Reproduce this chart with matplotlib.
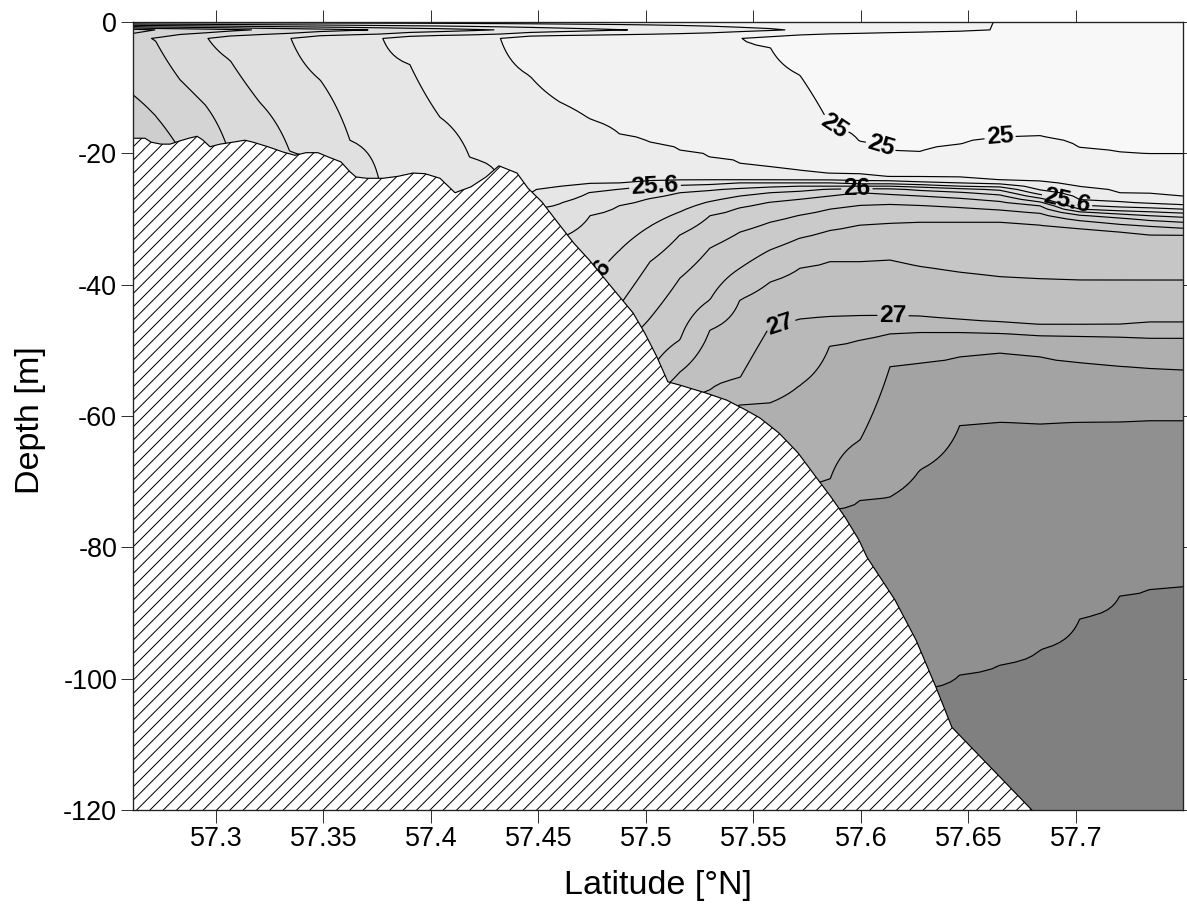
import numpy as np
import matplotlib
matplotlib.use("Agg")
import matplotlib.pyplot as plt

plt.rcParams['font.family'] = ['Liberation Sans', 'DejaVu Sans']
plt.rcParams['axes.unicode_minus'] = False
plt.rcParams['hatch.linewidth'] = 0.6

# ---------------- data ----------------
station_lat = [57.2614, 57.2716, 57.2833, 57.2949, 57.3065, 57.3205, 57.3344, 57.3484,
               57.3623, 57.3763, 57.3902, 57.4042, 57.4181, 57.4321, 57.4460, 57.4600,
               57.4740, 57.4879, 57.5019, 57.5158, 57.5298, 57.5437, 57.5577, 57.5716,
               57.5856, 57.5995, 57.6135, 57.6274, 57.6460, 57.6647, 57.6833, 57.7019,
               57.7205, 57.7344, 57.7498]

levels = [25.0, 25.2, 25.4, 25.6, 25.8, 26.0, 26.2, 26.4, 26.6, 26.8, 27.0, 27.2, 27.4, 27.6, 27.8]

nan = np.nan
# depth (m) of each isopycnal at each station; nan = lighter than whole water column
iso_25_0 = [nan] * 21 + [-2.1, -3.8, -8.1, -15.7, -18.3, -19.6, -19.9, -18.7, -17.5, -17.4,
                         -19.2, -19.9, -20.1, -20.1]
iso_25_2 = [nan] * 13 + [-2.3, -8.2, -12.2, -14.8, -17.1, -18.4, -19.5, -20.7, -21.5, -22.1,
                         -22.8, -23.1, -23.3, -23.6, -23.6, -23.8, -24.1, -24.4, -25.1, -26.0,
                         -26.2, -26.5]
iso_25_4 = [nan] * 9 + [-1.2, -6.5, -14.5, -20.7, -24.1, -26.3, -25.1, -24.8, -24.5, -24.4,
                        -24.2, -24.1, -24.1, -24.1, -24.1, -24.1, -24.2, -24.2, -24.4, -24.5,
                        -24.7, -25.6, -27.1, -27.4, -27.7, -27.9]
iso_25_6 = [nan] * 6 + [-2.1, -8.8, -18.0, -24.8, -25.3, -25.9, -26.5, -27.1, -28.6, -27.6,
                        -25.9, -25.4, -25.0, -24.8, -24.7, -24.5, -24.5, -24.5, -24.5, -24.7,
                        -24.7, -24.8, -25.0, -25.1, -26.3, -27.9, -28.2, -28.3, -28.5]
iso_25_8 = [nan] * 3 + [-1.8, -5.8, -12.3, -19.8, -21.8, -24.8, -26.3, -26.8, -27.4, -28.0,
                        -28.6, -30.2, -32.9, -29.5, -27.9, -26.8, -26.0, -25.6, -25.3, -25.1,
                        -25.0, -25.0, -25.0, -25.0, -25.1, -25.3, -25.6, -26.8, -28.5, -28.8,
                        -28.9, -29.1]
iso_26_0 = [nan, -2.7, -8.8, -12.6, -20.3, -23.3, -25.6, -27.1, -28.6, -29.4, -29.8, -30.5,
            -31.1, -31.7, -32.9, -35.5, -40.1, -34.7, -31.1, -28.9, -27.3, -26.5, -26.0, -25.7,
            -25.4, -25.3, -25.3, -25.6, -25.9, -26.3, -27.4, -28.9, -29.2, -29.5, -29.7]
iso_26_2 = [-11.1, -14.2, -19.5, -21.8, -24.1, -26.3, -27.9, -29.4, -30.9, -31.7, -32.1, -32.6,
            -33.2, -33.8, -34.7, -37.5, -42.3, -43.1, -36.5, -32.4, -29.5, -28.2, -27.4, -27.0,
            -26.5, -26.0, -26.2, -26.5, -26.8, -27.3, -28.0, -29.4, -29.8, -30.2, -30.5]
iso_26_4 = [-21.0, -23.3, -24.8, -26.3, -27.9, -29.4, -30.9, -32.4, -34.0, -34.7, -35.5, -35.9,
            -36.5, -37.2, -38.1, -40.8, -45.4, -49.2, -45.1, -39.0, -34.4, -32.0, -30.5, -29.4,
            -28.5, -27.9, -27.7, -27.9, -28.2, -28.6, -29.1, -30.2, -30.8, -31.1, -31.4]
iso_26_6 = [-23.3, -25.6, -27.1, -28.6, -30.2, -31.7, -33.2, -34.7, -36.2, -37.2, -37.8, -38.4,
            -39.0, -39.6, -40.8, -43.9, -48.4, -52.2, -53.3, -48.4, -42.3, -37.5, -34.7, -32.9,
            -31.7, -30.9, -30.6, -30.5, -30.5, -30.5, -30.8, -31.5, -32.0, -32.3, -32.4]
iso_26_8 = [-25.6, -27.9, -29.4, -30.9, -32.4, -34.0, -35.5, -37.0, -38.5, -39.3, -40.1, -40.8,
            -41.6, -42.3, -43.9, -46.9, -51.5, -55.3, -57.6, -53.3, -46.9, -42.3, -39.6, -37.5,
            -36.5, -36.5, -36.2, -37.2, -38.1, -38.8, -39.1, -39.3, -39.3, -39.3, -39.3]
iso_27_0 = [-27.9, -30.2, -31.7, -33.2, -34.7, -36.2, -37.8, -39.3, -40.8, -41.6, -42.3, -43.1,
            -43.9, -44.6, -46.1, -49.2, -53.8, -57.6, -59.8, -58.3, -56.0, -54.2, -46.3, -45.2,
            -44.9, -44.8, -44.8, -44.9, -45.4, -45.8, -46.1, -46.1, -46.0, -45.8, -45.8]
iso_27_2 = [-30.2, -32.4, -34.0, -35.5, -37.0, -38.5, -40.1, -41.6, -43.1, -43.9, -44.6, -45.4,
            -46.1, -46.9, -48.4, -51.5, -56.0, -59.8, -62.1, -60.6, -59.8, -58.3, -58.0, -55.3,
            -49.2, -48.4, -47.5, -47.2, -47.2, -47.4, -47.7, -47.8, -48.0, -48.1, -48.1]
iso_27_4 = [-32.4, -34.7, -36.2, -37.8, -39.3, -40.8, -42.3, -43.9, -45.4, -46.1, -46.9, -47.7,
            -48.4, -49.2, -50.7, -53.8, -58.3, -62.1, -64.4, -63.7, -62.9, -63.7, -68.2, -72.8,
            -69.7, -63.7, -52.5, -51.9, -51.0, -50.3, -51.0, -51.8, -52.4, -52.7, -53.0]
iso_27_6 = [-34.7, -37.0, -38.5, -40.1, -41.6, -43.1, -44.6, -46.1, -47.7, -48.4, -49.2, -50.0,
            -50.7, -51.5, -53.0, -56.0, -60.6, -64.4, -66.7, -66.7, -66.7, -68.2, -72.8, -75.8,
            -74.3, -72.8, -72.3, -68.2, -61.4, -60.9, -61.1, -60.9, -60.8, -60.6, -60.6]
iso_27_8 = [-37.0, -39.3, -40.8, -42.3, -43.9, -45.4, -46.9, -48.4, -50.0, -50.7, -51.5, -52.2,
            -53.0, -53.8, -55.3, -58.3, -62.9, -66.7, -69.0, -69.7, -70.5, -72.0, -75.8, -79.6,
            -83.5, -91.1, -98.7, -101.7, -99.4, -97.9, -95.6, -90.8, -87.3, -86.3, -86.0]

# thin surface layer: density at the surface and at 1.2 m
surface_sigma = [25.1] * 29 + [24.98, 24.9, 24.9, 24.9, 24.9, 24.9]
sub_sigma = [26.3, 26.2, 26.15, 26.1, 26.05, 25.98, 25.93, 25.88, 25.83, 25.78, 25.73, 25.69,
             25.64, 25.59, 25.54, 25.49, 25.45, 25.41, 25.37, 25.33, 25.29, 25.25, 25.22, 25.18,
             25.14, 25.11, 25.08, 25.06, 25.03, 24.99, 24.95, 24.95, 24.95, 24.95, 24.95]

# sea floor
bottom_lat = [57.2614, 57.2670, 57.2698, 57.2744, 57.2786, 57.2833, 57.2874, 57.2912, 57.2940,
              57.2972, 57.3019, 57.3079, 57.3135, 57.3172, 57.3242, 57.3312, 57.3367, 57.3419,
              57.3474, 57.3526, 57.3581, 57.3623, 57.3651, 57.3702, 57.3777, 57.3847, 57.3916,
              57.3972, 57.4042, 57.4112, 57.4186, 57.4256, 57.4316, 57.4400, 57.4451, 57.4516,
              57.4591, 57.4665, 57.4735, 57.4851, 57.4940, 57.4995, 57.5051, 57.5102, 57.5158,
              57.5279, 57.5377, 57.5465, 57.5530, 57.5619, 57.5707, 57.5791, 57.5860, 57.5926,
              57.5991, 57.6028, 57.6158, 57.6256, 57.6349, 57.6423, 57.6795]
bottom_depth = [-17.7, -17.7, -18.3, -18.6, -18.6, -18.1, -17.7, -17.4, -18.0,
                -19.0, -18.6, -18.3, -18.0, -18.3, -19.0, -19.8, -20.3, -19.9,
                -19.9, -20.6, -21.3, -22.8, -23.6, -23.8, -23.8, -23.5, -23.0,
                -23.1, -23.8, -26.0, -25.1, -23.6, -21.9, -23.0, -25.3, -27.4,
                -30.6, -33.7, -36.2, -40.8, -44.3, -47.4, -51.0, -54.8, -55.3,
                -56.5, -57.6, -59.1, -60.3, -62.6, -65.6, -69.3, -72.3, -75.4,
                -78.9, -81.5, -88.0, -94.1, -101.3, -107.4, -120.0]

fill_colors = ['#f8f8f8', '#f2f2f2', '#ececec', '#e6e6e6', '#e0e0e0', '#dadada', '#d4d4d4',
               '#cecece', '#cacaca', '#c6c6c6', '#c0c0c0', '#b9b9b9', '#afafaf', '#a3a3a3',
               '#909090', '#808080']

label_spots = {
    25.0: [(57.5888, -14.6), (57.6088, -19.5), (57.6647, -17.5)],
    25.6: [(57.5042, -25.1), (57.6949, -28.2)],
    26.0: [(57.5981, -25.3), (57.4786, -38.5)],
    27.0: [(57.5614, -44.5), (57.6149, -44.9)],
}

xtick_vals = [57.3, 57.35, 57.4, 57.45, 57.5, 57.55, 57.6, 57.65, 57.7]
xtick_labels = ['57.3', '57.35', '57.4', '57.45', '57.5', '57.55', '57.6', '57.65', '57.7']
ytick_vals = [0, -20, -40, -60, -80, -100, -120]
ytick_labels = ['0', '-20', '-40', '-60', '-80', '-100', '-120']

# ---------------- gridding ----------------
lev = np.array(levels)
iso = np.array([iso_25_0, iso_25_2, iso_25_4, iso_25_6, iso_25_8, iso_26_0, iso_26_2,
                iso_26_4, iso_26_6, iso_26_8, iso_27_0, iso_27_2, iso_27_4, iso_27_6,
                iso_27_8], dtype=float)
nst = len(station_lat)
z_main = np.arange(-2.5, -120.01, -0.5)
z = np.concatenate([[0.0, -1.2], z_main])
field = np.zeros((len(z), nst))
for j in range(nst):
    d = iso[:, j].copy()
    fin = np.where(~np.isnan(d))[0]
    first = fin[0]
    for k in range(first - 1, -1, -1):
        d[k] = 1.0 + 2.0 * (first - 1 - k)
    dd = np.concatenate([[max(d[0], -1.0) + 2.0], d, [-200.0]])
    h = np.maximum.accumulate(-dd)
    vals = np.concatenate([[lev[0] - 0.2], lev, [lev[-1] + 0.2]])
    field[2:, j] = np.interp(-z_main, h, vals)
field[0, :] = surface_sigma
field[1, :] = sub_sigma

# ---------------- plot ----------------
fig = plt.figure(figsize=(1187 / 120, 913 / 120), dpi=120)
ax = fig.add_axes([133 / 1187, 103 / 913, 1050 / 1187, 788 / 913])

fill_levels = [24.0] + levels + [29.0]
ax.contourf(station_lat, z, field, levels=fill_levels, colors=fill_colors, zorder=1)


def fmt(v):
    return f'{v:g}'


all_texts = []
for lv in levels:
    c = ax.contour(station_lat, z, field, levels=[lv], colors='black', linewidths=0.7, zorder=2)
    if lv in label_spots:
        txts = ax.clabel(c, manual=label_spots[lv], fmt=fmt, fontsize=14.7,
                         inline=True, inline_spacing=2)
        all_texts.extend(list(txts))
for t in all_texts:
    t.set_fontweight('bold')
    t.set_color('black')

ax.fill_between(bottom_lat, bottom_depth, -125, facecolor='white', edgecolor='black',
                hatch='///', linewidth=0.7, zorder=5)

ax.set_xlim(57.2614, 57.7498)
ax.set_ylim(-120, 0)
ax.set_xticks(xtick_vals)
ax.set_xticklabels(xtick_labels)
ax.set_yticks(ytick_vals)
ax.set_yticklabels(ytick_labels)
ax.tick_params(axis='both', which='major', direction='out', length=7.5, width=0.6,
               top=True, right=True, labelsize=16.2, pad=2, color='#333333')
for s in ax.spines.values():
    s.set_zorder(10)
    s.set_linewidth(0.8)
    s.set_color('#222222')

ax.set_xlabel('Latitude [°N]', fontsize=20.5)
ax.set_ylabel('Depth [m]', fontsize=20.5)
ax.xaxis.label.set_va('center')
ax.yaxis.label.set_va('center')
ax.xaxis.set_label_coords(0.5, -0.0952)
ax.yaxis.set_label_coords(-0.098, 0.495)

fig.savefig('out.png', dpi=120)
